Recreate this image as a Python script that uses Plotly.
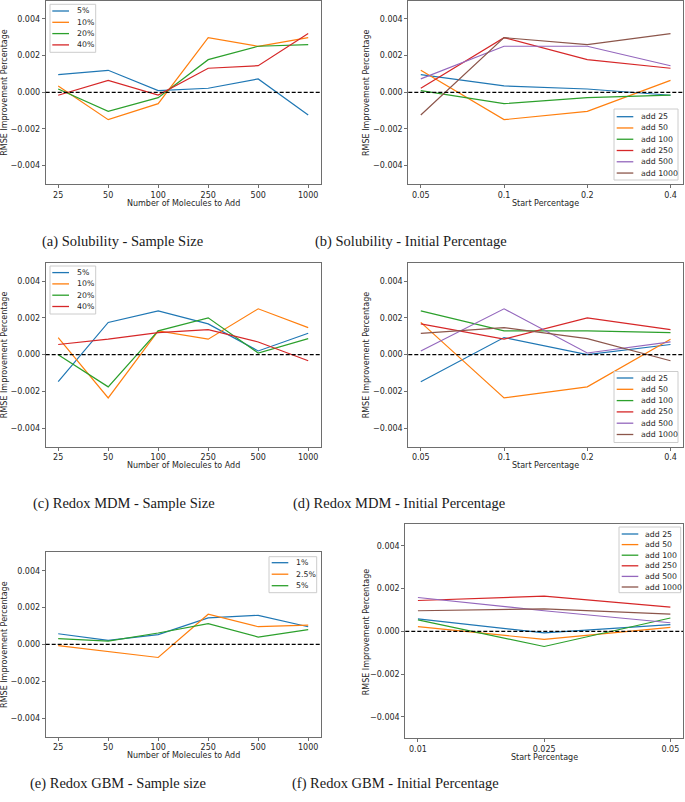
import plotly.graph_objects as go

W, H = 685, 802
COLORS = ["#1f77b4", "#ff7f0e", "#2ca02c", "#d62728", "#9467bd", "#8c564b"]

# ---- data ----
adds = ["25", "50", "100", "250", "500", "1000"]
add_names = ["add 25", "add 50", "add 100", "add 250", "add 500", "add 1000"]

# (a) Solubility - Sample Size
sol_pct_names = ["5%", "10%", "20%", "40%"]
sol_5 = [0.00096, 0.00120, 0.00009, 0.00022, 0.00073, -0.00124]
sol_10 = [0.00035, -0.00149, -0.00062, 0.00298, 0.00251, 0.00298]
sol_20 = [0.00018, -0.00104, -0.00029, 0.00178, 0.00251, 0.00260]
sol_40 = [-0.00016, 0.00065, -0.00015, 0.00131, 0.00145, 0.00320]

# (b) Solubility - Initial Percentage
sol_starts = ["0.05", "0.1", "0.2", "0.4"]
sol_add25 = [0.00096, 0.00035, 0.00018, -0.00016]
sol_add50 = [0.00120, -0.00149, -0.00104, 0.00065]
sol_add100 = [0.00009, -0.00062, -0.00029, -0.00015]
sol_add250 = [0.00022, 0.00298, 0.00178, 0.00131]
sol_add500 = [0.00073, 0.00251, 0.00251, 0.00145]
sol_add1000 = [-0.00124, 0.00298, 0.00260, 0.00320]

# (c) Redox MDM - Sample Size
mdm_pct_names = ["5%", "10%", "20%", "40%"]
mdm_5 = [-0.00147, 0.00175, 0.00238, 0.00167, 0.00020, 0.00116]
mdm_10 = [0.00093, -0.00235, 0.00129, 0.00084, 0.00249, 0.00147]
mdm_20 = [0.00000, -0.00175, 0.00129, 0.00200, 0.00009, 0.00087]
mdm_40 = [0.00055, 0.00084, 0.00120, 0.00136, 0.00069, -0.00033]

# (d) Redox MDM - Initial Percentage
mdm_starts = ["0.05", "0.1", "0.2", "0.4"]
mdm_add25 = [-0.00147, 0.00093, 0.00000, 0.00055]
mdm_add50 = [0.00175, -0.00235, -0.00175, 0.00084]
mdm_add100 = [0.00238, 0.00129, 0.00129, 0.00120]
mdm_add250 = [0.00167, 0.00084, 0.00200, 0.00136]
mdm_add500 = [0.00020, 0.00249, 0.00009, 0.00069]
mdm_add1000 = [0.00116, 0.00147, 0.00087, -0.00033]

# (e) Redox GBM - Sample size
gbm_pct_names = ["1%", "2.5%", "5%"]
gbm_1 = [0.00058, 0.00022, 0.00053, 0.00144, 0.00158, 0.00096]
gbm_2_5 = [-0.00007, -0.00038, -0.00071, 0.00164, 0.00096, 0.00105]
gbm_5 = [0.00031, 0.00018, 0.00062, 0.00113, 0.00040, 0.00080]

# (f) Redox GBM - Initial Percentage
gbm_starts = ["0.01", "0.025", "0.05"]
gbm_add25 = [0.00058, -0.00007, 0.00031]
gbm_add50 = [0.00022, -0.00038, 0.00018]
gbm_add100 = [0.00053, -0.00071, 0.00062]
gbm_add250 = [0.00144, 0.00164, 0.00113]
gbm_add500 = [0.00158, 0.00096, 0.00040]
gbm_add1000 = [0.00096, 0.00105, 0.00080]

Y_TITLE = "RMSE Improvement Percentage"

# layout in pixels: plot box (l, t, r, b), caption centre, x-title y, y-title x,
# legend: box (l, t, r, b), first row y, row step, line x0, line x1, text x
panels = [
    dict(box=(45.7, 0.6, 320.7, 184.0), x=adds, names=sol_pct_names,
         series=[sol_5, sol_10, sol_20, sol_40], xr=[-0.25, 5.25],
         xtitle="Number of Molecules to Add", xt_y=203.3, yt_x=4.5,
         caption="(a) Solubility - Sample Size", cap=(122.5, 241.7),
         leg=dict(box=(50, 4.3, 95.7, 52.3), y0=11.0, dy=11.3, l0=52.3, l1=69, tx=75)),
    dict(box=(408.3, 0.6, 683.0, 184.0), x=sol_starts, names=add_names,
         series=[sol_add25, sol_add50, sol_add100, sol_add250, sol_add500, sol_add1000],
         xr=[-0.15, 3.15], xtitle="Start Percentage", xt_y=203.3, yt_x=366.7,
         caption="(b) Solubility - Initial Percentage", cap=(411, 241.7),
         leg=dict(box=(614, 109, 678, 180), y0=116.7, dy=11.27, l0=616.7, l1=633.3, tx=639.3)),
    dict(box=(45.7, 262.6, 320.7, 446.7), x=adds, names=mdm_pct_names,
         series=[mdm_5, mdm_10, mdm_20, mdm_40], xr=[-0.25, 5.25],
         xtitle="Number of Molecules to Add", xt_y=465.7, yt_x=4.5,
         caption="(c) Redox MDM - Sample Size", cap=(123.5, 503.3),
         leg=dict(box=(50, 266.0, 95.7, 314.0), y0=272.6, dy=11.3, l0=52.3, l1=69, tx=75)),
    dict(box=(408.3, 262.6, 683.0, 446.7), x=mdm_starts, names=add_names,
         series=[mdm_add25, mdm_add50, mdm_add100, mdm_add250, mdm_add500, mdm_add1000],
         xr=[-0.15, 3.15], xtitle="Start Percentage", xt_y=465.7, yt_x=366.7,
         caption="(d) Redox MDM - Initial Percentage", cap=(399, 503.3),
         leg=dict(box=(614, 371.5, 678, 442.5), y0=378.0, dy=11.3, l0=616.7, l1=633.3, tx=639.3)),
    dict(box=(45.7, 552.3, 320.7, 736.5), x=adds, names=gbm_pct_names,
         series=[gbm_1, gbm_2_5, gbm_5], xr=[-0.25, 5.25],
         xtitle="Number of Molecules to Add", xt_y=755.7, yt_x=4.5,
         caption="(e) Redox GBM - Sample size", cap=(117.5, 783),
         leg=dict(box=(269, 556.7, 316.7, 592.7), y0=562.7, dy=11.5, l0=271.7, l1=288.3, tx=294.3)),
    dict(box=(405.3, 524.3, 683.0, 738.3), x=gbm_starts, names=add_names,
         series=[gbm_add25, gbm_add50, gbm_add100, gbm_add250, gbm_add500, gbm_add1000],
         xr=[-0.1, 2.1], xtitle="Start Percentage", xt_y=757.7, yt_x=366.0,
         caption="(f) Redox GBM - Initial Percentage", cap=(395, 783),
         leg=dict(box=(619, 527, 680.7, 592.7), y0=534.0, dy=10.6, l0=621.7, l1=638.3, tx=642.7)),
]


def px(x):
    return x / W


def py(y):
    return 1 - y / H


TICK_FONT = dict(family="DejaVu Sans", size=8, color="#262626")
fig = go.Figure()
shapes, annotations = [], []

for i, p in enumerate(panels):
    n = "" if i == 0 else str(i + 1)
    xa, ya = "x" + n, "y" + n
    l, t, r, b = p["box"]
    for j, (name, vals) in enumerate(zip(p["names"], p["series"])):
        fig.add_trace(go.Scatter(x=p["x"], y=vals, name=name, mode="lines",
                                 line=dict(color=COLORS[j], width=1.2),
                                 xaxis=xa, yaxis=ya, showlegend=False))
    fig.layout["xaxis" + n] = dict(
        domain=[px(l), px(r)], anchor=ya, type="category", range=p["xr"],
        showgrid=False, zeroline=False, showline=True, mirror=True,
        linecolor="#6e6e6e", linewidth=1, ticks="outside", ticklen=3,
        tickcolor="#6e6e6e", tickfont=TICK_FONT)
    fig.layout["yaxis" + n] = dict(
        domain=[py(b), py(t)], anchor=xa, range=[-0.005, 0.005],
        tickmode="linear", tick0=0, dtick=0.002, tickformat=".3f",
        showgrid=False, zeroline=False, showline=True, mirror=True,
        linecolor="#6e6e6e", linewidth=1, ticks="outside", ticklen=3,
        tickcolor="#6e6e6e", tickfont=TICK_FONT)
    # dashed zero line
    shapes.append(dict(type="line", xref=xa + " domain", yref=ya, x0=0, x1=1, y0=0, y1=0,
                       line=dict(color="black", width=1.2, dash="4px,2px")))
    # axis titles
    annotations.append(dict(text=p["xtitle"], x=px((l + r) / 2), y=py(p["xt_y"]),
                            xref="paper", yref="paper", showarrow=False,
                            xanchor="center", yanchor="middle", font=TICK_FONT))
    annotations.append(dict(text=Y_TITLE, x=px(p["yt_x"]), y=py((t + b) / 2),
                            xref="paper", yref="paper", showarrow=False, textangle=-90,
                            xanchor="center", yanchor="middle", font=TICK_FONT))
    # caption
    annotations.append(dict(text=p["caption"], x=px(p["cap"][0]), y=py(p["cap"][1]),
                            xref="paper", yref="paper", showarrow=False,
                            xanchor="center", yanchor="middle",
                            font=dict(family="Liberation Serif", size=14.5, color="#1a1a1a")))
    # legend box
    lg = p["leg"]
    bl, bt, br, bb = lg["box"]
    shapes.append(dict(type="rect", xref="paper", yref="paper",
                       x0=px(bl), x1=px(br), y0=py(bb), y1=py(bt),
                       fillcolor="rgba(255,255,255,0.85)", line=dict(color="#cccccc", width=1)))
    for j, name in enumerate(p["names"]):
        yy = lg["y0"] + j * lg["dy"]
        shapes.append(dict(type="line", xref="paper", yref="paper",
                           x0=px(lg["l0"]), x1=px(lg["l1"]), y0=py(yy), y1=py(yy),
                           line=dict(color=COLORS[j], width=1.3)))
        annotations.append(dict(text=name, x=px(lg["tx"]), y=py(yy), xref="paper", yref="paper",
                                showarrow=False, xanchor="left", yanchor="middle",
                                font=dict(family="DejaVu Sans", size=7.8, color="#262626")))

fig.update_layout(width=W, height=H, margin=dict(l=0, r=0, t=0, b=0),
                  paper_bgcolor="white", plot_bgcolor="white",
                  shapes=shapes, annotations=annotations, showlegend=False)

# drop the browser's default body margin so the figure fills the window
fig.write_html("out.html", config={"displayModeBar": False},
               post_script="document.body.style.margin='0';")
